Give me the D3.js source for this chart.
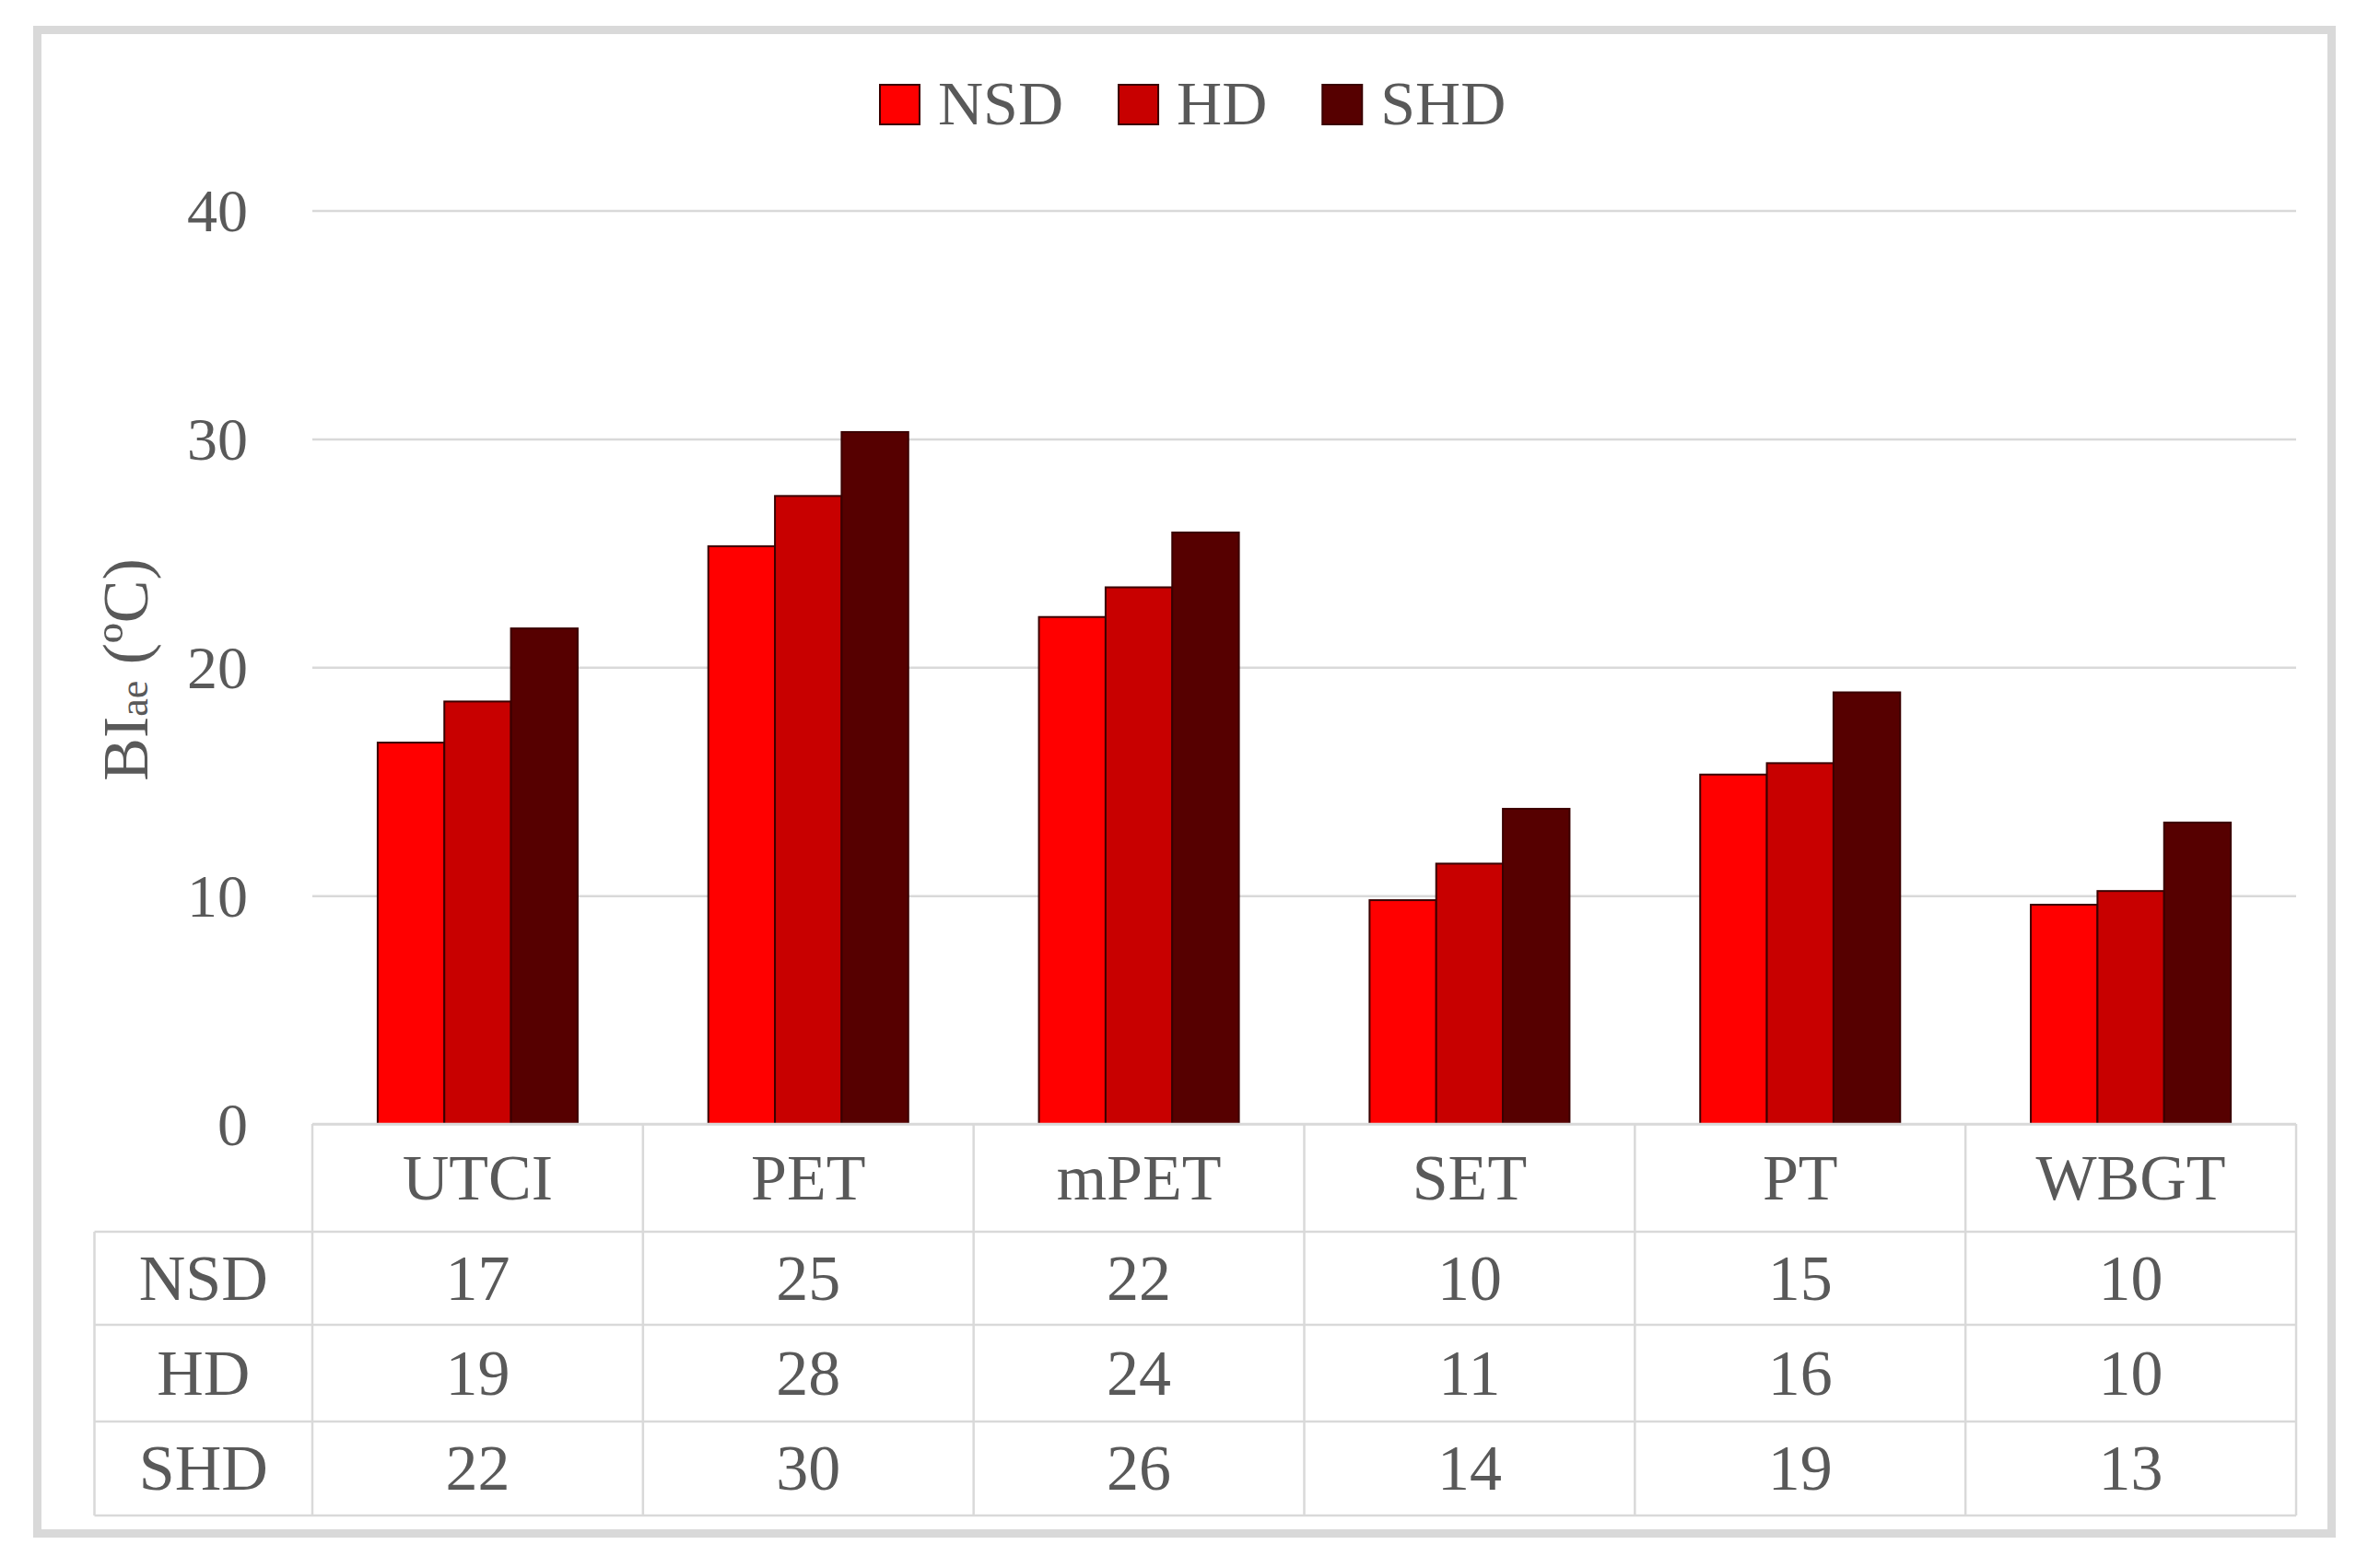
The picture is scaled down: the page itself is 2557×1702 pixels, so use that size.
<!DOCTYPE html>
<html>
<head>
<meta charset="utf-8">
<script src="https://cdn.jsdelivr.net/npm/d3@7"></script>
<style>
  html, body { margin: 0; padding: 0; background: #fff; }
  svg text { font-family: "Liberation Serif", "DejaVu Serif", serif; fill: #595959; }
</style>
</head>
<body>
<svg id="chart" width="2557" height="1702"></svg>
<script>
// ---- data ----
const categories = ["UTCI", "PET", "mPET", "SET", "PT", "WBGT"];
const seriesNames = ["NSD", "HD", "SHD"];
const nsdValues = [16.7, 25.3, 22.2, 9.8, 15.3, 9.6];
const hdValues  = [18.5, 27.5, 23.5, 11.4, 15.8, 10.2];
const shdValues = [21.7, 30.3, 25.9, 13.8, 18.9, 13.2];
const yTicks = [0, 10, 20, 30, 40];
const seriesColors = ["#FF0000", "#C80000", "#560000"];

const seriesValues = [nsdValues, hdValues, shdValues];

// ---- layout ----
const svg = d3.select("#chart");
const left = 339, right = 2492, y0 = 1220, yTop = 228.5;
const headerBottom = 1337, rowBottoms = [1438, 1543, 1645], tableLeft = 102.5;
const lineCol = "#d9d9d9";

// outer border
svg.append("rect").attr("x", 40.5).attr("y", 32.5).attr("width", 2490).attr("height", 1632)
  .attr("fill", "#fff").attr("stroke", lineCol).attr("stroke-width", 9);

const x = d3.scaleBand().domain(categories).range([left, right]).padding(0);
const xs = d3.scaleBand().domain(seriesNames).range([0, x.bandwidth()]).paddingInner(0).paddingOuter(0.98);
const y = d3.scaleLinear().domain([0, 40]).range([y0, yTop]);

// gridlines + y tick labels
const yAxis = d3.axisLeft(y).tickValues(yTicks).tickSize(-(right - left)).tickPadding(70);
const gy = svg.append("g").attr("transform", `translate(${left},0)`).call(yAxis);
gy.select(".domain").remove();
gy.selectAll(".tick line").attr("stroke", lineCol).attr("stroke-width", 2.5);
gy.selectAll(".tick text").attr("font-size", 66).attr("dy", "0.34em")
  .style("font-family", '"Liberation Serif", serif').attr("fill", "#595959");

// bars
const groups = svg.append("g").selectAll("g").data(categories).join("g")
  .attr("transform", d => `translate(${x(d)},0)`);
groups.selectAll("rect")
  .data((c, i) => seriesNames.map((s, k) => ({ s, k, v: seriesValues[k][i] })))
  .join("rect")
  .attr("x", d => xs(d.s))
  .attr("width", xs.bandwidth())
  .attr("y", d => y(d.v))
  .attr("height", d => y0 - y(d.v))
  .attr("fill", d => seriesColors[d.k])
  .attr("stroke", "#3a0000")
  .attr("stroke-width", 2);

// data table
const tg = svg.append("g");
const hl = [[left, right, y0], [tableLeft, right, headerBottom]].concat(rowBottoms.map(b => [tableLeft, right, b]));
tg.selectAll("line.h").data(hl).join("line").attr("class", "h")
  .attr("x1", d => d[0]).attr("x2", d => d[1]).attr("y1", d => d[2]).attr("y2", d => d[2])
  .attr("stroke", lineCol).attr("stroke-width", 2.5);
const vx = categories.map(c => x(c)).concat([right]);
tg.selectAll("line.v").data(vx).join("line").attr("class", "v")
  .attr("x1", d => d).attr("x2", d => d).attr("y1", y0).attr("y2", rowBottoms[2])
  .attr("stroke", lineCol).attr("stroke-width", 2.5);
tg.append("line").attr("x1", tableLeft).attr("x2", tableLeft).attr("y1", headerBottom).attr("y2", rowBottoms[2])
  .attr("stroke", lineCol).attr("stroke-width", 2.5);

// category labels
tg.selectAll("text.cat").data(categories).join("text").attr("class", "cat")
  .attr("x", d => x(d) + x.bandwidth() / 2).attr("y", (y0 + headerBottom) / 2 + 23)
  .attr("text-anchor", "middle").attr("font-size", 70).text(d => d);

const rowTops = [headerBottom].concat(rowBottoms.slice(0, 2));
seriesNames.forEach((s, k) => {
  const cy = (rowTops[k] + rowBottoms[k]) / 2 + 23;
  tg.append("text").attr("x", (tableLeft + left) / 2).attr("y", cy)
    .attr("text-anchor", "middle").attr("font-size", 70).text(s);
  tg.selectAll(`text.v${k}`).data(categories).join("text").attr("class", `v${k}`)
    .attr("x", d => x(d) + x.bandwidth() / 2).attr("y", cy)
    .attr("text-anchor", "middle").attr("font-size", 70)
    .text((d, i) => Math.round(seriesValues[k][i]));
});

// legend
const lg = svg.append("g");
let lx = 955;
seriesNames.forEach((s, k) => {
  lg.append("rect").attr("x", lx).attr("y", 92).attr("width", 43).attr("height", 43)
    .attr("fill", seriesColors[k]).attr("stroke", "#3a0000").attr("stroke-width", 2);
  const t = lg.append("text").attr("x", lx + 63).attr("y", 135).attr("font-size", 68).text(s);
  lx = lx + 63 + t.node().getComputedTextLength() + 60;
});

// y-axis title
const yt = svg.append("text").attr("transform", "translate(160,727) rotate(-90)")
  .attr("text-anchor", "middle").attr("font-size", 70);
yt.append("tspan").text("BI");
yt.append("tspan").attr("font-size", 44).text("ae");
yt.append("tspan").text(" (ºC)");
</script>
</body>
</html>
